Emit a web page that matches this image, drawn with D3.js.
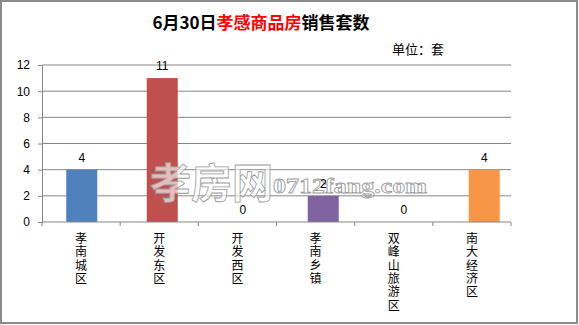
<!DOCTYPE html>
<html>
<head>
<meta charset="utf-8">
<script src="https://cdn.jsdelivr.net/npm/d3@7"></script>
<style>
  body { margin: 0; background: #fff; }
  text { font-family: "Noto Sans CJK SC", "Liberation Sans", sans-serif; }
</style>
</head>
<body>
<div id="chart"></div>
<script>
var categories = ['孝南城区', '开发东区', '开发西区', '孝南乡镇', '双峰山旅游区', '南大经济区'];
var sales = [4, 11, 0, 2, 0, 4];
var barColors = ['#4F81BD', '#C0504D', '#4F81BD', '#8064A2', '#4BACC6', '#F79646'];
var yTicks = [0, 2, 4, 6, 8, 10, 12];

var width = 579, height = 325;

var svg = d3.select('#chart').append('svg')
  .attr('width', width)
  .attr('height', height);

// outer frame
svg.append('rect')
  .attr('x', 1).attr('y', 1)
  .attr('width', width - 3).attr('height', height - 3)
  .attr('fill', '#fff')
  .attr('stroke', '#8c8c8c')
  .attr('stroke-width', 2);

// category slots on the axis, and the (slightly wider spaced) bar slots
var xBand = d3.scaleBand().domain(categories).range([42, 511]);
var xBar = d3.scaleBand().domain(categories).range([41.5, 524.5]);
var y = d3.scaleLinear().domain([0, 12]).range([222, 65]);

// gridlines
svg.append('g')
  .selectAll('line')
  .data(yTicks.slice(1))
  .enter().append('line')
  .attr('x1', 42).attr('x2', 511)
  .attr('y1', function(d) { return y(d); })
  .attr('y2', function(d) { return y(d); })
  .attr('stroke', '#868686')
  .attr('stroke-width', 1);

// y axis
var yAxis = svg.append('g')
  .attr('transform', 'translate(42,0)')
  .call(d3.axisLeft(y).tickValues(yTicks).tickSize(4).tickPadding(8));
yAxis.select('.domain').attr('stroke', '#868686');
yAxis.selectAll('.tick line').attr('stroke', '#868686');
yAxis.selectAll('.tick text').attr('font-size', 12).attr('fill', '#000')
  .style('font-family', '"Liberation Sans", sans-serif');

// bars
svg.append('g')
  .selectAll('rect')
  .data(sales)
  .enter().append('rect')
  .attr('x', function(d, i) { return xBar(categories[i]) + xBar.bandwidth() / 2 - 15.5; })
  .attr('width', 31)
  .attr('y', function(d) { return y(d); })
  .attr('height', function(d) { return y(0) - y(d); })
  .attr('fill', function(d, i) { return barColors[i]; });

// x axis
var xAxis = svg.append('g')
  .attr('transform', 'translate(0,' + y(0) + ')');
xAxis.append('line')
  .attr('x1', 42).attr('x2', 511)
  .attr('stroke', '#868686');
xAxis.selectAll('.tk')
  .data(categories.concat(['end']))
  .enter().append('line')
  .attr('class', 'tk')
  .attr('x1', function(d, i) { return 42 + i * xBand.bandwidth(); })
  .attr('x2', function(d, i) { return 42 + i * xBand.bandwidth(); })
  .attr('y1', 0).attr('y2', 4)
  .attr('stroke', '#868686');

// vertical category labels
var catLabel = svg.append('g')
  .selectAll('text')
  .data(categories)
  .enter().append('text')
  .attr('text-anchor', 'middle')
  .attr('font-size', 12)
  .attr('fill', '#000');
catLabel.each(function(d) {
  var t = d3.select(this);
  var cx = xBand(d) + xBand.bandwidth() / 2;
  d.split('').forEach(function(ch, k) {
    t.append('tspan')
      .attr('x', cx)
      .attr('y', 243 + k * 13.3)
      .text(ch);
  });
});

// watermark
svg.append('text')
  .attr('x', 150).attr('y', 198)
  .attr('font-size', 41)
  .attr('font-weight', 'bold')
  .attr('textLength', 123)
  .attr('lengthAdjust', 'spacingAndGlyphs')
  .attr('fill', 'rgba(255,255,255,0.65)')
  .attr('stroke', '#9a9a9a')
  .attr('stroke-width', 0.8)
  .text('孝房网');
svg.append('text')
  .attr('x', 273).attr('y', 193)
  .attr('font-size', 22)
  .attr('font-weight', 'bold')
  .attr('textLength', 154)
  .attr('lengthAdjust', 'spacingAndGlyphs')
  .style('font-family', '"Liberation Serif", serif')
  .attr('fill', 'rgba(255,255,255,0.65)')
  .attr('stroke', '#9a9a9a')
  .attr('stroke-width', 0.8)
  .text('0712fang.com');

// value labels
svg.append('g')
  .selectAll('text')
  .data(sales)
  .enter().append('text')
  .attr('x', function(d, i) { return xBar(categories[i]) + xBar.bandwidth() / 2; })
  .attr('y', function(d) { return y(d) - 8; })
  .attr('text-anchor', 'middle')
  .attr('font-size', 12)
  .style('font-family', '"Liberation Sans", sans-serif')
  .text(function(d) { return d; });

// title
var title = svg.append('text')
  .attr('x', 261).attr('y', 29)
  .attr('text-anchor', 'middle')
  .attr('font-size', 17)
  .attr('font-weight', 'bold');
title.append('tspan').attr('fill', '#000').text('6月30日');
title.append('tspan').attr('fill', '#ff0000').text('孝感商品房');
title.append('tspan').attr('fill', '#000').text('销售套数');

svg.append('text')
  .attr('x', 392).attr('y', 54)
  .attr('font-size', 13)
  .attr('fill', '#000')
  .text('单位：套');
</script>
</body>
</html>
